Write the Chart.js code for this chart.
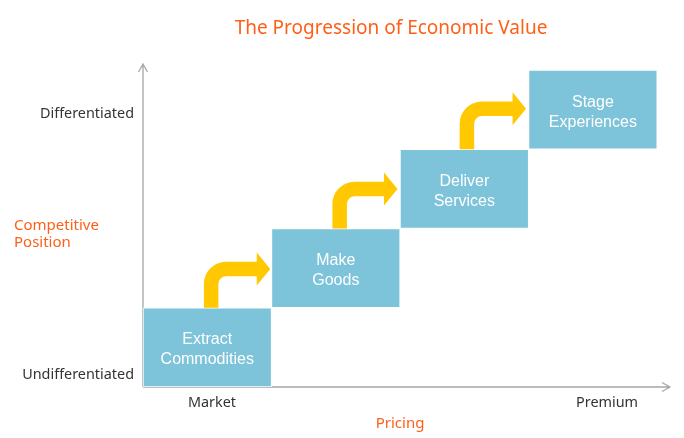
<!DOCTYPE html>
<html>
<head>
<meta charset="utf-8">
<script src="https://cdn.jsdelivr.net/npm/chart.js@4.4.1/dist/chart.umd.min.js"></script>
<style>
  html, body { margin: 0; padding: 0; background: #ffffff; }
  #wrap { width: 684px; height: 438px; }
</style>
</head>
<body>
<div id="wrap"><canvas id="c" width="684" height="438"></canvas></div>
<script>
// ---- data ----
const stages = ['Extract Commodities', 'Make Goods', 'Deliver Services', 'Stage Experiences'];
const stageLines = [['Extract', 'Commodities'], ['Make', 'Goods'], ['Deliver', 'Services'], ['Stage', 'Experiences']];
const stagePricing = [0.5, 1.5, 2.5, 3.5];          // x centre of each step
const stageLow = [0, 1, 2, 3];                        // competitive position (bottom)
const stageHigh = [1, 2, 3, 4];                       // competitive position (top)
const arrowStemX = [0.53, 1.53, 2.52];
const arrowBaseY = [1, 2, 3];
const arrowTurnY = [1.49, 2.50, 3.51];
const arrowTipX = [0.99, 1.98, 2.98];
const xTickValues = [0.537, 3.61];
const xTickLabels = ['Market', 'Premium'];
const yTickValues = [0.15, 3.445];
const yTickLabels = ['Undifferentiated', 'Differentiated'];
const chartTitle = 'The Progression of Economic Value';
const xTitle = 'Pricing';
const yTitle = ['Competitive', 'Position'];

const ORANGE = '#FF5F17';
const BLUE = '#7DC3D9';
const YELLOW = '#FFC800';
const AXIS = '#A6A6A6';
const TEXT = '#333333';

const decor = {
  id: 'decor',
  beforeDatasetsDraw(chart) {
    const {ctx, chartArea: a, scales: {x, y}} = chart;
    ctx.save();
    ctx.strokeStyle = AXIS;
    ctx.lineWidth = 1.3;
    const x0 = x.getPixelForValue(0), y0 = y.getPixelForValue(0);
    ctx.beginPath();
    ctx.moveTo(x0, y0); ctx.lineTo(x0, a.top);
    ctx.moveTo(x0 - 4.5, a.top + 8); ctx.lineTo(x0, a.top); ctx.lineTo(x0 + 4.5, a.top + 8);
    ctx.moveTo(x0, y0); ctx.lineTo(a.right, y0);
    ctx.moveTo(a.right - 8, y0 - 4.5); ctx.lineTo(a.right, y0); ctx.lineTo(a.right - 8, y0 + 4.5);
    ctx.stroke();
    ctx.restore();
  },
  afterDatasetsDraw(chart) {
    const {ctx, chartArea: a, scales: {x, y}} = chart;
    ctx.save();
    // curved arrows
    for (let i = 0; i < arrowStemX.length; i++) {
      const sx = x.getPixelForValue(arrowStemX[i]);
      const by = y.getPixelForValue(arrowBaseY[i]);
      const ty = y.getPixelForValue(arrowTurnY[i]);
      const tip = x.getPixelForValue(arrowTipX[i]);
      const headLen = 13.5, headHalf = 16.5, r = 15;
      ctx.strokeStyle = YELLOW;
      ctx.lineWidth = 14.5;
      ctx.lineCap = 'butt';
      ctx.beginPath();
      ctx.moveTo(sx, by);
      ctx.lineTo(sx, ty + r);
      ctx.arcTo(sx, ty, sx + r, ty, r);
      ctx.lineTo(tip - headLen + 0.5, ty);
      ctx.stroke();
      ctx.fillStyle = YELLOW;
      ctx.beginPath();
      ctx.moveTo(tip - headLen, ty - headHalf);
      ctx.lineTo(tip, ty);
      ctx.lineTo(tip - headLen, ty + headHalf);
      ctx.closePath();
      ctx.fill();
    }
    // stage labels
    const meta = chart.getDatasetMeta(0);
    ctx.fillStyle = '#ffffff';
    ctx.font = '16px "Liberation Sans", Arial, sans-serif';
    ctx.textAlign = 'center';
    ctx.textBaseline = 'middle';
    meta.data.forEach((bar, i) => {
      const cx = bar.x, cy = (bar.y + bar.base) / 2 + 2.5;
      const lines = stageLines[i];
      const lh = 20;
      lines.forEach((t, j) => {
        ctx.fillText(t, cx, cy + (j - (lines.length - 1) / 2) * lh);
      });
    });
    // chart title
    ctx.fillStyle = ORANGE;
    ctx.font = '19px "Noto Sans", sans-serif';
    ctx.textAlign = 'center';
    ctx.fillText(chartTitle, 391, 28.5);
    // axis titles
    ctx.font = '15px "Noto Sans", sans-serif';
    ctx.fillText(xTitle, x.getPixelForValue(2.0), 424);
    ctx.textAlign = 'left';
    const yc = y.getPixelForValue(1.95) + 2;
    ctx.fillText(yTitle[0], 14, yc - 8.5);
    ctx.fillText(yTitle[1], 14, yc + 8.5);
    ctx.restore();
  }
};

new Chart(document.getElementById('c'), {
  type: 'bar',
  data: {
    datasets: [{
      label: 'Stages',
      data: stagePricing.map((v, i) => ({x: v, y: [stageLow[i], stageHigh[i]]})),
      backgroundColor: BLUE,
      borderColor: '#ffffff',
      borderWidth: 1,
      borderSkipped: false,
      barPercentage: 1,
      categoryPercentage: 1
    }]
  },
  options: {
    responsive: false,
    animation: false,
    devicePixelRatio: 1,
    layout: { padding: { left: 0, right: 14, top: 64, bottom: 0 } },
    plugins: {
      legend: { display: false },
      tooltip: { enabled: false },
      title: { display: false }
    },
    scales: {
      x: {
        type: 'linear',
        offset: false,
        min: 0,
        max: 4.1,
        grid: { display: false, drawTicks: false, offset: false },
        border: { display: false },
        afterFit(s) { s.height = 51; },
        afterBuildTicks(s) { s.ticks = xTickValues.map(v => ({value: v})); },
        ticks: {
          padding: 7,
          color: TEXT,
          font: { family: '"Noto Sans", sans-serif', size: 14.4 },
          maxRotation: 0,
          autoSkip: false,
          callback: (v, i) => xTickLabels[i]
        }
      },
      y: {
        type: 'linear',
        min: 0,
        max: 4.076,
        grid: { display: false, drawTicks: false },
        border: { display: false },
        afterFit(s) { s.width = 143; },
        afterBuildTicks(s) { s.ticks = yTickValues.map(v => ({value: v})); },
        ticks: {
          padding: 9,
          color: TEXT,
          font: { family: '"Noto Sans", sans-serif', size: 14.4 },
          autoSkip: false,
          callback: (v, i) => yTickLabels[i]
        }
      }
    }
  },
  plugins: [decor]
});
</script>
</body>
</html>
